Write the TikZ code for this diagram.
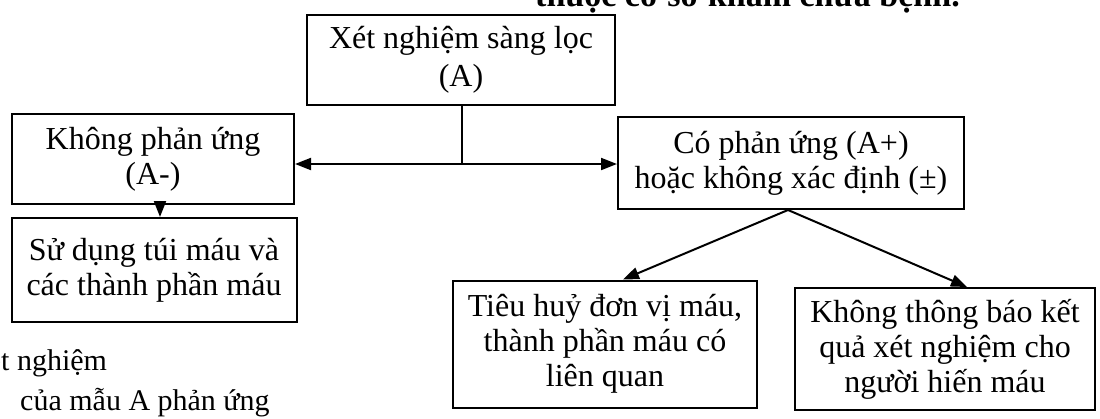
\documentclass[tikz,border=0pt]{standalone}
\usepackage{fontspec}
\setmainfont{Liberation Serif}
\usetikzlibrary{arrows.meta}
\begin{document}
\begin{tikzpicture}[x=1pt,y=-1pt,
  box/.style={draw, line width=2pt, align=center, inner sep=0pt, font=\fontsize{32}{35}\selectfont},
  arr/.style={line width=2pt, -{Triangle[length=16pt,width=12pt]}},
  ln/.style={line width=2pt},
  txt/.style={inner sep=0pt, font=\fontsize{30}{35}\selectfont},
  ttl/.style={inner sep=0pt, font=\fontsize{34}{40}\selectfont\bfseries}]
\useasboundingbox (0,0) rectangle (1100,418);
\clip (0,0) rectangle (1100,418);
\fill[white] (0,0) rectangle (1100,418);
% title fragment (cut off at top)
\node[ttl, anchor=base east] (title) at (960,6) {thuộc cơ sở khám chữa bệnh.};
% boxes
\node[box, minimum width=308pt, minimum height=90pt, font=\fontsize{32}{38}\selectfont] (a) at (461,60) {Xét nghiệm sàng lọc\\(A)};
\node[box, minimum width=282pt, minimum height=90pt] (b) at (153,159) {Không phản ứng\\(A-)};
\node[box, minimum width=346pt, minimum height=92pt] (c) at (791,163) {Có phản ứng (A+)\\hoặc không xác định (±)};
\node[box, minimum width=285pt, minimum height=104pt] (d) at (154,270) {Sử dụng túi máu và\\các thành phần máu};
\node[box, minimum width=304pt, minimum height=127pt] (e) at (605,344) {Tiêu huỷ đơn vị máu,\\thành phần máu có\\liên quan};
\node[box, minimum width=300pt, minimum height=122pt] (f) at (945,349) {Không thông báo kết\\quả xét nghiệm cho\\người hiến máu};
% connectors
\coordinate (j) at (462,164);
\draw[ln] (a.south -| j) -- (j);
\draw[arr] (j) -- (b.east |- j);
\draw[arr] (j) -- (c.west |- j);
\coordinate (bd) at (160,0);
\draw[arr] (b.south -| bd) -- (d.north -| bd);
\coordinate (k) at (788,210);
\draw[arr] (k) -- ([xshift=18pt]e.north);
\draw[arr] (k) -- ([xshift=22pt]f.north);
% bottom-left text fragment
\node[txt, anchor=base west] (n1) at (-34,370) {Xét nghiệm};
\node[txt, anchor=base west] (n2) at (20,410) {của mẫu A phản ứng};
\end{tikzpicture}
\end{document}
